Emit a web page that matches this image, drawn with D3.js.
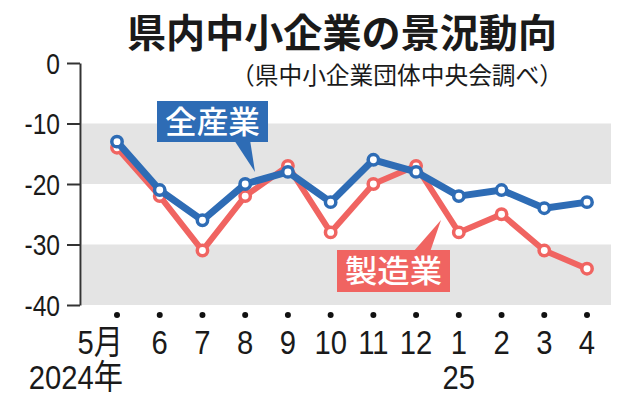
<!DOCTYPE html>
<html>
<head>
<meta charset="utf-8">
<script src="https://cdn.jsdelivr.net/npm/d3@7"></script>
<style>
  html, body { margin: 0; padding: 0; background: #fff; }
  svg { display: block; }
</style>
</head>
<body>
<div id="chart"></div>
<script>
// データ
const months = ["5", "6", "7", "8", "9", "10", "11", "12", "1", "2", "3", "4"];
const monthLabels = ["5月", "6", "7", "8", "9", "10", "11", "12", "1", "2", "3", "4"];
const yearLabels = [{ month: "5", text: "2024年" }, { month: "1", text: "25" }];
const allIndustry = [-13, -21, -26, -20, -18, -23, -16, -18, -22, -21, -24, -23];
const manufacturing = [-14, -22, -31, -22, -17, -28, -20, -17, -28, -25, -31, -34];
const yTicks = [0, -10, -20, -30, -40];
const bands = [[-10, -20], [-30, -40]];

const width = 634;
const height = 400;
const blue = "#2e6cb5";
const red = "#f06461";
const numFont = "'Liberation Sans', 'Noto Sans CJK JP', sans-serif";
const jpFont = "'Noto Sans CJK JP', sans-serif";

const svg = d3.select("#chart").append("svg")
    .attr("width", width)
    .attr("height", height);

// スケール
const x = d3.scalePoint()
    .domain(months)
    .range([117, 587]);

const y = d3.scaleLinear()
    .domain([0, -40])
    .range([63, 305]);

// 背景の帯
svg.append("g").selectAll("rect")
    .data(bands)
    .join("rect")
    .attr("x", 82)
    .attr("width", 611 - 82)
    .attr("y", d => y(d[0]))
    .attr("height", d => y(d[1]) - y(d[0]))
    .attr("fill", "#e4e4e4");

// 縦軸
const yAxis = svg.append("g")
    .attr("transform", "translate(80,0)")
    .call(d3.axisLeft(y).tickValues(yTicks).tickSize(13).tickSizeOuter(0).tickFormat(d => d));
yAxis.select(".domain").attr("stroke", "#333").attr("stroke-width", 2);
yAxis.selectAll(".tick line").attr("stroke", "#333").attr("stroke-width", 2);
yAxis.selectAll(".tick text").remove();
yAxis.selectAll(".tick").append("text")
    .attr("transform", "translate(-20,10) scale(0.82,1)")
    .attr("text-anchor", "end")
    .attr("fill", "#1a1a1a")
    .attr("font-family", numFont)
    .attr("font-size", 30)
    .text(d => d);

// 折れ線
const line = d3.line()
    .x((d, i) => x(months[i]))
    .y(d => y(d));

function drawSeries(values, color, lw) {
    svg.append("path")
        .datum(values)
        .attr("fill", "none")
        .attr("stroke", color)
        .attr("stroke-width", lw)
        .attr("stroke-linejoin", "round")
        .attr("d", line);
    svg.append("g").selectAll("circle")
        .data(values)
        .join("circle")
        .attr("cx", (d, i) => x(months[i]))
        .attr("cy", d => y(d))
        .attr("r", 5.2)
        .attr("fill", "#fff")
        .attr("stroke", color)
        .attr("stroke-width", 3.5);
}

drawSeries(manufacturing, red, 6);
drawSeries(allIndustry, blue, 7);

// 吹き出しラベル
function callout(box, pointer, color, label) {
    svg.append("polygon")
        .attr("points", pointer.map(p => p.join(",")).join(" "))
        .attr("fill", color);
    svg.append("rect")
        .attr("x", box.x)
        .attr("y", box.y)
        .attr("width", box.w)
        .attr("height", box.h)
        .attr("fill", color);
    svg.append("text")
        .attr("x", box.x + box.w / 2)
        .attr("y", box.y + box.h / 2 + 11)
        .attr("text-anchor", "middle")
        .attr("fill", "#fff")
        .attr("font-family", jpFont)
        .attr("font-weight", 500)
        .attr("font-size", 31)
        .attr("textLength", box.w - 16)
        .attr("lengthAdjust", "spacingAndGlyphs")
        .text(label);
}

callout({ x: 157, y: 101, w: 111, h: 41 }, [[234, 140], [250, 140], [255, 172]], blue, "全産業");
callout({ x: 337, y: 250, w: 113, h: 42 }, [[413, 252], [430, 252], [441, 220]], red, "製造業");

// 横軸の点とラベル
svg.append("g").selectAll("circle")
    .data(months)
    .join("circle")
    .attr("cx", d => x(d))
    .attr("cy", 315)
    .attr("r", 3)
    .attr("fill", "#111");

svg.append("g").selectAll("text")
    .data(months)
    .join("text")
    .attr("transform", (d, i) => `translate(${x(d) + (i === 0 ? 6 : 0)},354) scale(0.86,1)`)
    .attr("text-anchor", (d, i) => i === 0 ? "end" : "middle")
    .attr("fill", "#1a1a1a")
    .attr("font-family", numFont)
    .attr("font-size", 34)
    .text((d, i) => monthLabels[i]);

svg.append("g").selectAll("text")
    .data(yearLabels)
    .join("text")
    .attr("transform", d => `translate(${x(d.month) + (d.month === "5" ? 6 : 0)},389) scale(0.86,1)`)
    .attr("text-anchor", d => d.month === "5" ? "end" : "middle")
    .attr("fill", "#1a1a1a")
    .attr("font-family", numFont)
    .attr("font-size", 34)
    .text(d => d.text);

// タイトル
svg.append("text")
    .attr("x", 127)
    .attr("y", 47)
    .attr("fill", "#1a1a1a")
    .attr("font-family", jpFont)
    .attr("font-weight", 700)
    .attr("font-size", 39)
    .attr("textLength", 430)
    .attr("lengthAdjust", "spacingAndGlyphs")
    .text("県内中小企業の景況動向");

svg.append("text")
    .attr("x", 231)
    .attr("y", 84)
    .attr("fill", "#1a1a1a")
    .attr("font-family", jpFont)
    .attr("font-size", 24)
    .attr("textLength", 332)
    .attr("lengthAdjust", "spacingAndGlyphs")
    .text("（県中小企業団体中央会調べ）");
</script>
</body>
</html>
